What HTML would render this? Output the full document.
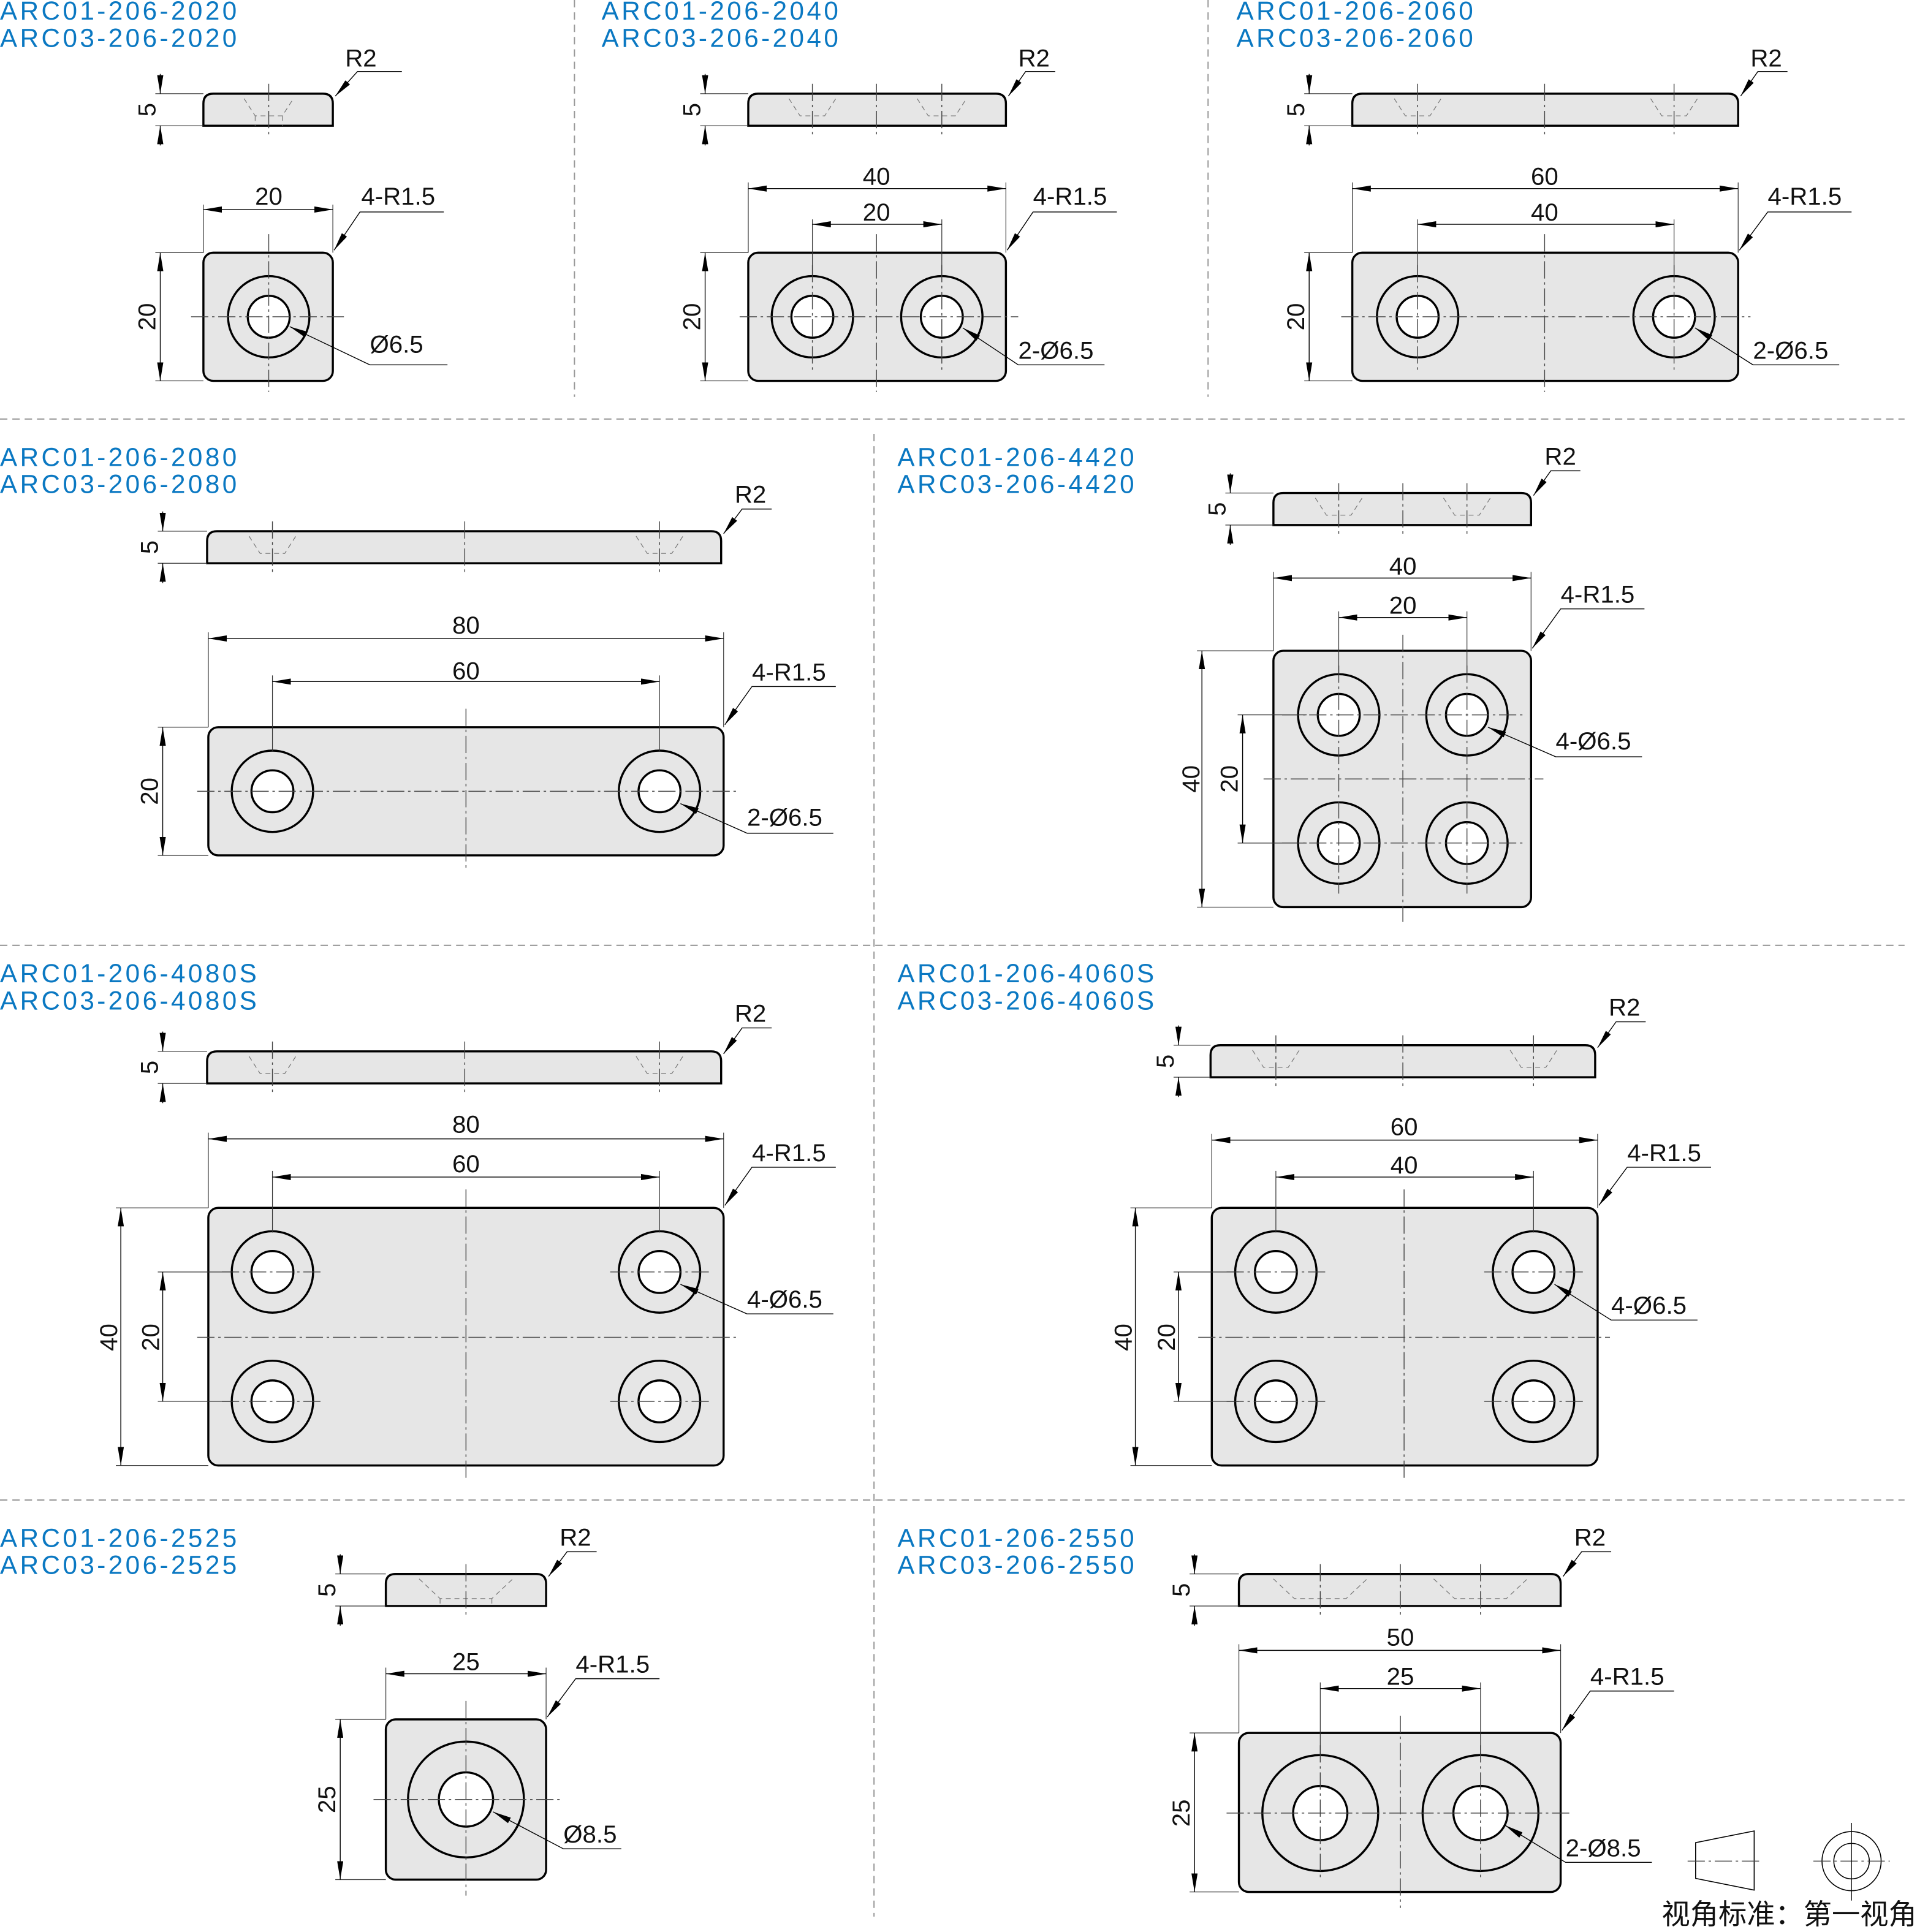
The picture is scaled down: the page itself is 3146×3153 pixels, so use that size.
<!DOCTYPE html>
<html><head><meta charset="utf-8"><style>
html,body{margin:0;padding:0;background:#fff}
svg{display:block}
.o{fill:#e6e6e6;stroke:#000;stroke-width:1.7}
.h{fill:none;stroke:#000;stroke-width:1.7}
.hw{fill:#fff;stroke:#000;stroke-width:1.7}
.d{stroke:#000;stroke-width:0.7;fill:none}
.e{stroke:#333;stroke-width:0.6;fill:none}
.c{stroke:#444;stroke-width:0.7;stroke-dasharray:14 3 2 3;fill:none}
.k{stroke:#777;stroke-width:0.6;stroke-dasharray:4 3;fill:none}
.s{stroke:#999;stroke-width:1;stroke-dasharray:6 4;fill:none}
text{font-family:"Liberation Sans",sans-serif;font-size:20px;fill:#111}
.b{fill:#0a78c2;font-size:21px;letter-spacing:2.2px}
</style></head><body>
<svg width="3146" height="3153" viewBox="0 0 1564 1567.5" preserveAspectRatio="none" xmlns="http://www.w3.org/2000/svg">
<defs>
<marker id="a" viewBox="0 0 15 5" refX="15" refY="2.5" markerWidth="15" markerHeight="5" orient="auto-start-reverse" markerUnits="userSpaceOnUse"><path d="M0,0 L15,2.5 L0,5z" fill="#000"/></marker>
</defs>
<rect width="1564" height="1568" fill="#fff"/>
<line class="s" x1="466" y1="0" x2="466" y2="322"/>
<line class="s" x1="980" y1="0" x2="980" y2="322"/>
<line class="s" x1="0" y1="340" x2="1545" y2="340"/>
<line class="s" x1="709" y1="352" x2="709" y2="1555"/>
<line class="s" x1="0" y1="767" x2="1545" y2="767"/>
<line class="s" x1="0" y1="1217" x2="1545" y2="1217"/>

<!-- Part 1 -->
<text class="b" x="0" y="16">ARC01-206-2020</text>
<text class="b" x="0" y="38">ARC03-206-2020</text>
<path class="o" d="M165,102 L165,84 Q165,76 173,76 L262,76 Q270,76 270,84 L270,102Z"/>
<path class="k" d="M198,80 L207,94 L229,94 L238,80 M207,94 L207,102 M229,94 L229,102"/>
<line class="c" x1="218" y1="68" x2="218" y2="110"/>
<line class="e" x1="126" y1="76" x2="165" y2="76"/><line class="e" x1="126" y1="102" x2="165" y2="102"/>
<line class="d" x1="130" y1="60" x2="130" y2="76" marker-end="url(#a)"/><line class="d" x1="130" y1="118" x2="130" y2="102" marker-end="url(#a)"/>
<text transform="translate(126,89) rotate(-90)" text-anchor="middle">5</text>
<polyline class="d" points="326,58 290,58 272,78" marker-end="url(#a)"/><text x="280" y="54">R2</text>
<rect class="o" x="165" y="205" width="105" height="104" rx="8"/>
<circle class="h" cx="218" cy="257" r="33"/><circle class="hw" cx="218" cy="257" r="17"/>
<line class="c" x1="218" y1="190" x2="218" y2="318"/><line class="c" x1="155" y1="257" x2="282" y2="257"/>
<line class="e" x1="165" y1="166" x2="165" y2="205"/><line class="e" x1="270" y1="166" x2="270" y2="205"/>
<line class="d" x1="165" y1="170" x2="270" y2="170" marker-start="url(#a)" marker-end="url(#a)"/>
<text x="218" y="166" text-anchor="middle">20</text>
<line class="e" x1="126" y1="205" x2="165" y2="205"/><line class="e" x1="126" y1="309" x2="165" y2="309"/>
<line class="d" x1="130" y1="205" x2="130" y2="309" marker-start="url(#a)" marker-end="url(#a)"/>
<text transform="translate(126,257) rotate(-90)" text-anchor="middle">20</text>
<polyline class="d" points="360,172 292,172 271,203" marker-end="url(#a)"/><text x="293" y="166">4-R1.5</text>
<polyline class="d" points="363,296 300,296 235,265" marker-end="url(#a)"/><text x="300" y="286">Ø6.5</text>

<!-- Part 2 -->
<text class="b" x="488" y="16">ARC01-206-2040</text>
<text class="b" x="488" y="38">ARC03-206-2040</text>
<path class="o" d="M607,102 L607,84 Q607,76 615,76 L808,76 Q816,76 816,84 L816,102Z"/>
<path class="k" d="M640,80 L649,94 L669,94 L678,80 M744,80 L753,94 L775,94 L784,80"/>
<line class="c" x1="659" y1="68" x2="659" y2="110"/><line class="c" x1="711" y1="68" x2="711" y2="110"/><line class="c" x1="764" y1="68" x2="764" y2="110"/>
<line class="e" x1="568" y1="76" x2="607" y2="76"/><line class="e" x1="568" y1="102" x2="607" y2="102"/>
<line class="d" x1="572" y1="60" x2="572" y2="76" marker-end="url(#a)"/><line class="d" x1="572" y1="118" x2="572" y2="102" marker-end="url(#a)"/>
<text transform="translate(568,89) rotate(-90)" text-anchor="middle">5</text>
<polyline class="d" points="856,58 832,58 818,78" marker-end="url(#a)"/><text x="826" y="54">R2</text>
<rect class="o" x="607" y="205" width="209" height="104" rx="8"/>
<circle class="h" cx="659" cy="257" r="33"/><circle class="hw" cx="659" cy="257" r="17"/>
<circle class="h" cx="764" cy="257" r="33"/><circle class="hw" cx="764" cy="257" r="17"/>
<line class="c" x1="711" y1="190" x2="711" y2="318"/><line class="c" x1="600" y1="257" x2="826" y2="257"/>
<line class="c" x1="659" y1="215" x2="659" y2="300"/><line class="c" x1="764" y1="215" x2="764" y2="300"/>
<line class="e" x1="607" y1="148" x2="607" y2="205"/><line class="e" x1="816" y1="148" x2="816" y2="205"/>
<line class="e" x1="659" y1="178" x2="659" y2="224"/><line class="e" x1="764" y1="178" x2="764" y2="224"/>
<line class="d" x1="607" y1="153" x2="816" y2="153" marker-start="url(#a)" marker-end="url(#a)"/><text x="711" y="150" text-anchor="middle">40</text>
<line class="d" x1="659" y1="182" x2="764" y2="182" marker-start="url(#a)" marker-end="url(#a)"/><text x="711" y="179" text-anchor="middle">20</text>
<line class="e" x1="568" y1="205" x2="607" y2="205"/><line class="e" x1="568" y1="309" x2="607" y2="309"/>
<line class="d" x1="572" y1="205" x2="572" y2="309" marker-start="url(#a)" marker-end="url(#a)"/>
<text transform="translate(568,257) rotate(-90)" text-anchor="middle">20</text>
<polyline class="d" points="906,172 838,172 817,203" marker-end="url(#a)"/><text x="838" y="166">4-R1.5</text>
<polyline class="d" points="896,296 826,296 781,266" marker-end="url(#a)"/><text x="826" y="291">2-Ø6.5</text>

<!-- Part 3 -->
<text class="b" x="1003" y="16">ARC01-206-2060</text>
<text class="b" x="1003" y="38">ARC03-206-2060</text>
<path class="o" d="M1097,102 L1097,84 Q1097,76 1105,76 L1402,76 Q1410,76 1410,84 L1410,102Z"/>
<path class="k" d="M1131,80 L1140,94 L1160,94 L1169,80 M1339,80 L1348,94 L1368,94 L1377,80"/>
<line class="c" x1="1150" y1="68" x2="1150" y2="110"/><line class="c" x1="1253" y1="68" x2="1253" y2="110"/><line class="c" x1="1358" y1="68" x2="1358" y2="110"/>
<line class="e" x1="1058" y1="76" x2="1097" y2="76"/><line class="e" x1="1058" y1="102" x2="1097" y2="102"/>
<line class="d" x1="1062" y1="60" x2="1062" y2="76" marker-end="url(#a)"/><line class="d" x1="1062" y1="118" x2="1062" y2="102" marker-end="url(#a)"/>
<text transform="translate(1058,89) rotate(-90)" text-anchor="middle">5</text>
<polyline class="d" points="1450,58 1426,58 1412,78" marker-end="url(#a)"/><text x="1420" y="54">R2</text>
<rect class="o" x="1097" y="205" width="313" height="104" rx="8"/>
<circle class="h" cx="1150" cy="257" r="33"/><circle class="hw" cx="1150" cy="257" r="17"/>
<circle class="h" cx="1358" cy="257" r="33"/><circle class="hw" cx="1358" cy="257" r="17"/>
<line class="c" x1="1253" y1="190" x2="1253" y2="318"/><line class="c" x1="1088" y1="257" x2="1420" y2="257"/>
<line class="c" x1="1150" y1="215" x2="1150" y2="300"/><line class="c" x1="1358" y1="215" x2="1358" y2="300"/>
<line class="e" x1="1097" y1="148" x2="1097" y2="205"/><line class="e" x1="1410" y1="148" x2="1410" y2="205"/>
<line class="e" x1="1150" y1="178" x2="1150" y2="224"/><line class="e" x1="1358" y1="178" x2="1358" y2="224"/>
<line class="d" x1="1097" y1="153" x2="1410" y2="153" marker-start="url(#a)" marker-end="url(#a)"/><text x="1253" y="150" text-anchor="middle">60</text>
<line class="d" x1="1150" y1="182" x2="1358" y2="182" marker-start="url(#a)" marker-end="url(#a)"/><text x="1253" y="179" text-anchor="middle">40</text>
<line class="e" x1="1058" y1="205" x2="1097" y2="205"/><line class="e" x1="1058" y1="309" x2="1097" y2="309"/>
<line class="d" x1="1062" y1="205" x2="1062" y2="309" marker-start="url(#a)" marker-end="url(#a)"/>
<text transform="translate(1058,257) rotate(-90)" text-anchor="middle">20</text>
<polyline class="d" points="1502,172 1434,172 1411,203" marker-end="url(#a)"/><text x="1434" y="166">4-R1.5</text>
<polyline class="d" points="1492,296 1422,296 1375,266" marker-end="url(#a)"/><text x="1422" y="291">2-Ø6.5</text>

<!-- Part 4 -->
<text class="b" x="0" y="378">ARC01-206-2080</text>
<text class="b" x="0" y="400">ARC03-206-2080</text>
<path class="o" d="M168,457 L168,439 Q168,431 176,431 L577,431 Q585,431 585,439 L585,457Z"/>
<path class="k" d="M202,435 L211,449 L231,449 L240,435 M516,435 L525,449 L545,449 L554,435"/>
<line class="c" x1="221" y1="423" x2="221" y2="465"/><line class="c" x1="377" y1="423" x2="377" y2="465"/><line class="c" x1="535" y1="423" x2="535" y2="465"/>
<line class="e" x1="128" y1="431" x2="168" y2="431"/><line class="e" x1="128" y1="457" x2="168" y2="457"/>
<line class="d" x1="132" y1="415" x2="132" y2="431" marker-end="url(#a)"/><line class="d" x1="132" y1="473" x2="132" y2="457" marker-end="url(#a)"/>
<text transform="translate(128,444) rotate(-90)" text-anchor="middle">5</text>
<polyline class="d" points="626,413 602,413 587,433" marker-end="url(#a)"/><text x="596" y="408">R2</text>
<rect class="o" x="169" y="590" width="418" height="104" rx="8"/>
<circle class="h" cx="221" cy="642" r="33"/><circle class="hw" cx="221" cy="642" r="17"/>
<circle class="h" cx="535" cy="642" r="33"/><circle class="hw" cx="535" cy="642" r="17"/>
<line class="c" x1="378" y1="575" x2="378" y2="705"/><line class="c" x1="160" y1="642" x2="597" y2="642"/>
<line class="e" x1="169" y1="513" x2="169" y2="590"/><line class="e" x1="587" y1="513" x2="587" y2="590"/>
<line class="e" x1="221" y1="548" x2="221" y2="610"/><line class="e" x1="535" y1="548" x2="535" y2="610"/>
<line class="d" x1="169" y1="518" x2="587" y2="518" marker-start="url(#a)" marker-end="url(#a)"/><text x="378" y="514" text-anchor="middle">80</text>
<line class="d" x1="221" y1="553" x2="535" y2="553" marker-start="url(#a)" marker-end="url(#a)"/><text x="378" y="551" text-anchor="middle">60</text>
<line class="e" x1="128" y1="590" x2="169" y2="590"/><line class="e" x1="128" y1="694" x2="169" y2="694"/>
<line class="d" x1="132" y1="590" x2="132" y2="694" marker-start="url(#a)" marker-end="url(#a)"/>
<text transform="translate(128,642) rotate(-90)" text-anchor="middle">20</text>
<polyline class="d" points="678,557 610,557 588,588" marker-end="url(#a)"/><text x="610" y="552">4-R1.5</text>
<polyline class="d" points="676,676 606,676 552,652" marker-end="url(#a)"/><text x="606" y="670">2-Ø6.5</text>

<!-- Part 5 -->
<text class="b" x="728" y="378">ARC01-206-4420</text>
<text class="b" x="728" y="400">ARC03-206-4420</text>
<path class="o" d="M1033,426 L1033,408 Q1033,400 1041,400 L1234,400 Q1242,400 1242,408 L1242,426Z"/>
<path class="k" d="M1067,404 L1076,418 L1096,418 L1105,404 M1171,404 L1180,418 L1200,418 L1209,404"/>
<line class="c" x1="1086" y1="392" x2="1086" y2="434"/><line class="c" x1="1138" y1="392" x2="1138" y2="434"/><line class="c" x1="1190" y1="392" x2="1190" y2="434"/>
<line class="e" x1="994" y1="400" x2="1033" y2="400"/><line class="e" x1="994" y1="426" x2="1033" y2="426"/>
<line class="d" x1="998" y1="384" x2="998" y2="400" marker-end="url(#a)"/><line class="d" x1="998" y1="442" x2="998" y2="426" marker-end="url(#a)"/>
<text transform="translate(994,413) rotate(-90)" text-anchor="middle">5</text>
<polyline class="d" points="1282,382 1258,382 1244,402" marker-end="url(#a)"/><text x="1253" y="377">R2</text>
<rect class="o" x="1033" y="528" width="209" height="208" rx="8"/>
<circle class="h" cx="1086" cy="580" r="33"/><circle class="hw" cx="1086" cy="580" r="17"/>
<circle class="h" cx="1190" cy="580" r="33"/><circle class="hw" cx="1190" cy="580" r="17"/>
<circle class="h" cx="1086" cy="684" r="33"/><circle class="hw" cx="1086" cy="684" r="17"/>
<circle class="h" cx="1190" cy="684" r="33"/><circle class="hw" cx="1190" cy="684" r="17"/>
<line class="c" x1="1138" y1="515" x2="1138" y2="748"/><line class="c" x1="1025" y1="632" x2="1252" y2="632"/>
<line class="c" x1="1040" y1="580" x2="1235" y2="580"/><line class="c" x1="1040" y1="684" x2="1235" y2="684"/>
<line class="c" x1="1086" y1="540" x2="1086" y2="725"/><line class="c" x1="1190" y1="540" x2="1190" y2="725"/>
<line class="e" x1="1033" y1="464" x2="1033" y2="528"/><line class="e" x1="1242" y1="464" x2="1242" y2="528"/>
<line class="e" x1="1086" y1="496" x2="1086" y2="548"/><line class="e" x1="1190" y1="496" x2="1190" y2="548"/>
<line class="d" x1="1033" y1="469" x2="1242" y2="469" marker-start="url(#a)" marker-end="url(#a)"/><text x="1138" y="466" text-anchor="middle">40</text>
<line class="d" x1="1086" y1="501" x2="1190" y2="501" marker-start="url(#a)" marker-end="url(#a)"/><text x="1138" y="498" text-anchor="middle">20</text>
<line class="e" x1="971" y1="528" x2="1033" y2="528"/><line class="e" x1="971" y1="736" x2="1033" y2="736"/>
<line class="e" x1="1004" y1="580" x2="1060" y2="580"/><line class="e" x1="1004" y1="684" x2="1060" y2="684"/>
<line class="d" x1="975" y1="528" x2="975" y2="736" marker-start="url(#a)" marker-end="url(#a)"/>
<text transform="translate(973,632) rotate(-90)" text-anchor="middle">40</text>
<line class="d" x1="1008" y1="580" x2="1008" y2="684" marker-start="url(#a)" marker-end="url(#a)"/>
<text transform="translate(1004,632) rotate(-90)" text-anchor="middle">20</text>
<polyline class="d" points="1334,494 1266,494 1243,526" marker-end="url(#a)"/><text x="1266" y="489">4-R1.5</text>
<polyline class="d" points="1332,614 1262,614 1207,590" marker-end="url(#a)"/><text x="1262" y="608">4-Ø6.5</text>

<!-- Part 6 -->
<text class="b" x="0" y="797">ARC01-206-4080S</text>
<text class="b" x="0" y="819">ARC03-206-4080S</text>
<path class="o" d="M168,879 L168,861 Q168,853 176,853 L577,853 Q585,853 585,861 L585,879Z"/>
<path class="k" d="M202,857 L211,871 L231,871 L240,857 M516,857 L525,871 L545,871 L554,857"/>
<line class="c" x1="221" y1="845" x2="221" y2="887"/><line class="c" x1="377" y1="845" x2="377" y2="887"/><line class="c" x1="535" y1="845" x2="535" y2="887"/>
<line class="e" x1="128" y1="853" x2="168" y2="853"/><line class="e" x1="128" y1="879" x2="168" y2="879"/>
<line class="d" x1="132" y1="837" x2="132" y2="853" marker-end="url(#a)"/><line class="d" x1="132" y1="895" x2="132" y2="879" marker-end="url(#a)"/>
<text transform="translate(128,866) rotate(-90)" text-anchor="middle">5</text>
<polyline class="d" points="626,834 602,834 587,855" marker-end="url(#a)"/><text x="596" y="829">R2</text>
<rect class="o" x="169" y="980" width="418" height="209" rx="8"/>
<circle class="h" cx="221" cy="1032" r="33"/><circle class="hw" cx="221" cy="1032" r="17"/>
<circle class="h" cx="535" cy="1032" r="33"/><circle class="hw" cx="535" cy="1032" r="17"/>
<circle class="h" cx="221" cy="1137" r="33"/><circle class="hw" cx="221" cy="1137" r="17"/>
<circle class="h" cx="535" cy="1137" r="33"/><circle class="hw" cx="535" cy="1137" r="17"/>
<line class="c" x1="378" y1="965" x2="378" y2="1200"/><line class="c" x1="160" y1="1085" x2="597" y2="1085"/>
<line class="c" x1="180" y1="1032" x2="260" y2="1032"/><line class="c" x1="495" y1="1032" x2="575" y2="1032"/>
<line class="c" x1="180" y1="1137" x2="260" y2="1137"/><line class="c" x1="495" y1="1137" x2="575" y2="1137"/>
<line class="e" x1="169" y1="919" x2="169" y2="980"/><line class="e" x1="587" y1="919" x2="587" y2="980"/>
<line class="e" x1="221" y1="950" x2="221" y2="1000"/><line class="e" x1="535" y1="950" x2="535" y2="1000"/>
<line class="d" x1="169" y1="924" x2="587" y2="924" marker-start="url(#a)" marker-end="url(#a)"/><text x="378" y="919" text-anchor="middle">80</text>
<line class="d" x1="221" y1="955" x2="535" y2="955" marker-start="url(#a)" marker-end="url(#a)"/><text x="378" y="951" text-anchor="middle">60</text>
<line class="e" x1="94" y1="980" x2="169" y2="980"/><line class="e" x1="94" y1="1189" x2="169" y2="1189"/>
<line class="e" x1="128" y1="1032" x2="190" y2="1032"/><line class="e" x1="128" y1="1137" x2="190" y2="1137"/>
<line class="d" x1="98" y1="980" x2="98" y2="1189" marker-start="url(#a)" marker-end="url(#a)"/>
<text transform="translate(95,1085) rotate(-90)" text-anchor="middle">40</text>
<line class="d" x1="132" y1="1032" x2="132" y2="1137" marker-start="url(#a)" marker-end="url(#a)"/>
<text transform="translate(129,1085) rotate(-90)" text-anchor="middle">20</text>
<polyline class="d" points="678,947 610,947 588,978" marker-end="url(#a)"/><text x="610" y="942">4-R1.5</text>
<polyline class="d" points="676,1066 606,1066 552,1042" marker-end="url(#a)"/><text x="606" y="1061">4-Ø6.5</text>

<!-- Part 7 -->
<text class="b" x="728" y="797">ARC01-206-4060S</text>
<text class="b" x="728" y="819">ARC03-206-4060S</text>
<path class="o" d="M982,874 L982,856 Q982,848 990,848 L1286,848 Q1294,848 1294,856 L1294,874Z"/>
<path class="k" d="M1016,852 L1025,866 L1045,866 L1054,852 M1225,852 L1234,866 L1254,866 L1263,852"/>
<line class="c" x1="1035" y1="840" x2="1035" y2="882"/><line class="c" x1="1138" y1="840" x2="1138" y2="882"/><line class="c" x1="1244" y1="840" x2="1244" y2="882"/>
<line class="e" x1="952" y1="848" x2="982" y2="848"/><line class="e" x1="952" y1="874" x2="982" y2="874"/>
<line class="d" x1="956" y1="832" x2="956" y2="848" marker-end="url(#a)"/><line class="d" x1="956" y1="890" x2="956" y2="874" marker-end="url(#a)"/>
<text transform="translate(952,861) rotate(-90)" text-anchor="middle">5</text>
<polyline class="d" points="1335,829 1311,829 1296,850" marker-end="url(#a)"/><text x="1305" y="824">R2</text>
<rect class="o" x="983" y="980" width="313" height="209" rx="8"/>
<circle class="h" cx="1035" cy="1032" r="33"/><circle class="hw" cx="1035" cy="1032" r="17"/>
<circle class="h" cx="1244" cy="1032" r="33"/><circle class="hw" cx="1244" cy="1032" r="17"/>
<circle class="h" cx="1035" cy="1137" r="33"/><circle class="hw" cx="1035" cy="1137" r="17"/>
<circle class="h" cx="1244" cy="1137" r="33"/><circle class="hw" cx="1244" cy="1137" r="17"/>
<line class="c" x1="1139" y1="965" x2="1139" y2="1200"/><line class="c" x1="972" y1="1085" x2="1306" y2="1085"/>
<line class="c" x1="995" y1="1032" x2="1075" y2="1032"/><line class="c" x1="1204" y1="1032" x2="1284" y2="1032"/>
<line class="c" x1="995" y1="1137" x2="1075" y2="1137"/><line class="c" x1="1204" y1="1137" x2="1284" y2="1137"/>
<line class="e" x1="983" y1="920" x2="983" y2="980"/><line class="e" x1="1296" y1="920" x2="1296" y2="980"/>
<line class="e" x1="1035" y1="950" x2="1035" y2="1000"/><line class="e" x1="1244" y1="950" x2="1244" y2="1000"/>
<line class="d" x1="983" y1="925" x2="1296" y2="925" marker-start="url(#a)" marker-end="url(#a)"/><text x="1139" y="921" text-anchor="middle">60</text>
<line class="d" x1="1035" y1="955" x2="1244" y2="955" marker-start="url(#a)" marker-end="url(#a)"/><text x="1139" y="952" text-anchor="middle">40</text>
<line class="e" x1="917" y1="980" x2="983" y2="980"/><line class="e" x1="917" y1="1189" x2="983" y2="1189"/>
<line class="e" x1="952" y1="1032" x2="1005" y2="1032"/><line class="e" x1="952" y1="1137" x2="1005" y2="1137"/>
<line class="d" x1="921" y1="980" x2="921" y2="1189" marker-start="url(#a)" marker-end="url(#a)"/>
<text transform="translate(918,1085) rotate(-90)" text-anchor="middle">40</text>
<line class="d" x1="956" y1="1032" x2="956" y2="1137" marker-start="url(#a)" marker-end="url(#a)"/>
<text transform="translate(953,1085) rotate(-90)" text-anchor="middle">20</text>
<polyline class="d" points="1388,947 1320,947 1297,978" marker-end="url(#a)"/><text x="1320" y="942">4-R1.5</text>
<polyline class="d" points="1377,1071 1307,1071 1261,1042" marker-end="url(#a)"/><text x="1307" y="1066">4-Ø6.5</text>

<!-- Part 8 -->
<text class="b" x="0" y="1255">ARC01-206-2525</text>
<text class="b" x="0" y="1277">ARC03-206-2525</text>
<path class="o" d="M313,1303 L313,1285 Q313,1277 321,1277 L435,1277 Q443,1277 443,1285 L443,1303Z"/>
<path class="k" d="M340,1281 L357,1297 L399,1297 L416,1281 M357,1297 L357,1303 M399,1297 L399,1303"/>
<line class="c" x1="378" y1="1269" x2="378" y2="1311"/>
<line class="e" x1="272" y1="1277" x2="313" y2="1277"/><line class="e" x1="272" y1="1303" x2="313" y2="1303"/>
<line class="d" x1="276" y1="1261" x2="276" y2="1277" marker-end="url(#a)"/><line class="d" x1="276" y1="1319" x2="276" y2="1303" marker-end="url(#a)"/>
<text transform="translate(272,1290) rotate(-90)" text-anchor="middle">5</text>
<polyline class="d" points="484,1259 460,1259 445,1279" marker-end="url(#a)"/><text x="454" y="1254">R2</text>
<rect class="o" x="313" y="1395" width="130" height="130" rx="8"/>
<circle class="h" cx="378" cy="1460" r="47"/><circle class="hw" cx="378" cy="1460" r="22"/>
<line class="c" x1="378" y1="1380" x2="378" y2="1538"/><line class="c" x1="303" y1="1460" x2="455" y2="1460"/>
<line class="e" x1="313" y1="1353" x2="313" y2="1395"/><line class="e" x1="443" y1="1353" x2="443" y2="1395"/>
<line class="d" x1="313" y1="1358" x2="443" y2="1358" marker-start="url(#a)" marker-end="url(#a)"/><text x="378" y="1355" text-anchor="middle">25</text>
<line class="e" x1="272" y1="1395" x2="313" y2="1395"/><line class="e" x1="272" y1="1525" x2="313" y2="1525"/>
<line class="d" x1="276" y1="1395" x2="276" y2="1525" marker-start="url(#a)" marker-end="url(#a)"/>
<text transform="translate(272,1460) rotate(-90)" text-anchor="middle">25</text>
<polyline class="d" points="535,1362 467,1362 444,1393" marker-end="url(#a)"/><text x="467" y="1357">4-R1.5</text>
<polyline class="d" points="504,1500 457,1500 400,1470" marker-end="url(#a)"/><text x="457" y="1495">Ø8.5</text>

<!-- Part 9 -->
<text class="b" x="728" y="1255">ARC01-206-2550</text>
<text class="b" x="728" y="1277">ARC03-206-2550</text>
<path class="o" d="M1005,1303 L1005,1285 Q1005,1277 1013,1277 L1258,1277 Q1266,1277 1266,1285 L1266,1303Z"/>
<path class="k" d="M1033,1281 L1050,1297 L1092,1297 L1109,1281 M1163,1281 L1180,1297 L1222,1297 L1239,1281"/>
<line class="c" x1="1071" y1="1269" x2="1071" y2="1311"/><line class="c" x1="1136" y1="1269" x2="1136" y2="1311"/><line class="c" x1="1201" y1="1269" x2="1201" y2="1311"/>
<line class="e" x1="965" y1="1277" x2="1005" y2="1277"/><line class="e" x1="965" y1="1303" x2="1005" y2="1303"/>
<line class="d" x1="969" y1="1261" x2="969" y2="1277" marker-end="url(#a)"/><line class="d" x1="969" y1="1319" x2="969" y2="1303" marker-end="url(#a)"/>
<text transform="translate(965,1290) rotate(-90)" text-anchor="middle">5</text>
<polyline class="d" points="1307,1259 1283,1259 1268,1279" marker-end="url(#a)"/><text x="1277" y="1254">R2</text>
<rect class="o" x="1005" y="1406" width="261" height="129" rx="8"/>
<circle class="h" cx="1071" cy="1471" r="47"/><circle class="hw" cx="1071" cy="1471" r="22"/>
<circle class="h" cx="1201" cy="1471" r="47"/><circle class="hw" cx="1201" cy="1471" r="22"/>
<line class="c" x1="1136" y1="1392" x2="1136" y2="1548"/><line class="c" x1="995" y1="1471" x2="1276" y2="1471"/>
<line class="c" x1="1071" y1="1416" x2="1071" y2="1525"/><line class="c" x1="1201" y1="1416" x2="1201" y2="1525"/>
<line class="e" x1="1005" y1="1334" x2="1005" y2="1406"/><line class="e" x1="1266" y1="1334" x2="1266" y2="1406"/>
<line class="e" x1="1071" y1="1365" x2="1071" y2="1424"/><line class="e" x1="1201" y1="1365" x2="1201" y2="1424"/>
<line class="d" x1="1005" y1="1339" x2="1266" y2="1339" marker-start="url(#a)" marker-end="url(#a)"/><text x="1136" y="1335" text-anchor="middle">50</text>
<line class="d" x1="1071" y1="1370" x2="1201" y2="1370" marker-start="url(#a)" marker-end="url(#a)"/><text x="1136" y="1367" text-anchor="middle">25</text>
<line class="e" x1="965" y1="1406" x2="1005" y2="1406"/><line class="e" x1="965" y1="1535" x2="1005" y2="1535"/>
<line class="d" x1="969" y1="1406" x2="969" y2="1535" marker-start="url(#a)" marker-end="url(#a)"/>
<text transform="translate(965,1471) rotate(-90)" text-anchor="middle">25</text>
<polyline class="d" points="1358,1372 1290,1372 1267,1404" marker-end="url(#a)"/><text x="1290" y="1367">4-R1.5</text>
<polyline class="d" points="1340,1511 1270,1511 1221,1481" marker-end="url(#a)"/><text x="1270" y="1506">2-Ø8.5</text>

<!-- legend -->
<path d="M1375.5,1495 L1423,1485.5 L1423,1533.5 L1375.5,1524Z" fill="none" stroke="#000" stroke-width="0.8"/>
<line class="c" x1="1369" y1="1510" x2="1430" y2="1510"/>
<circle cx="1502" cy="1510" r="24" fill="none" stroke="#000" stroke-width="0.8"/>
<circle cx="1502" cy="1510" r="14.4" fill="none" stroke="#000" stroke-width="0.8"/>
<line class="c" x1="1471" y1="1510" x2="1533" y2="1510"/>
<line x1="1502" y1="1479" x2="1502" y2="1542" stroke="#000" stroke-width="0.6"/>
<text x="1348" y="1561" style="font-family:'Liberation Sans','Noto Sans CJK SC',sans-serif;font-size:23px">视角标准：第一视角</text>
</svg>
</body></html>
